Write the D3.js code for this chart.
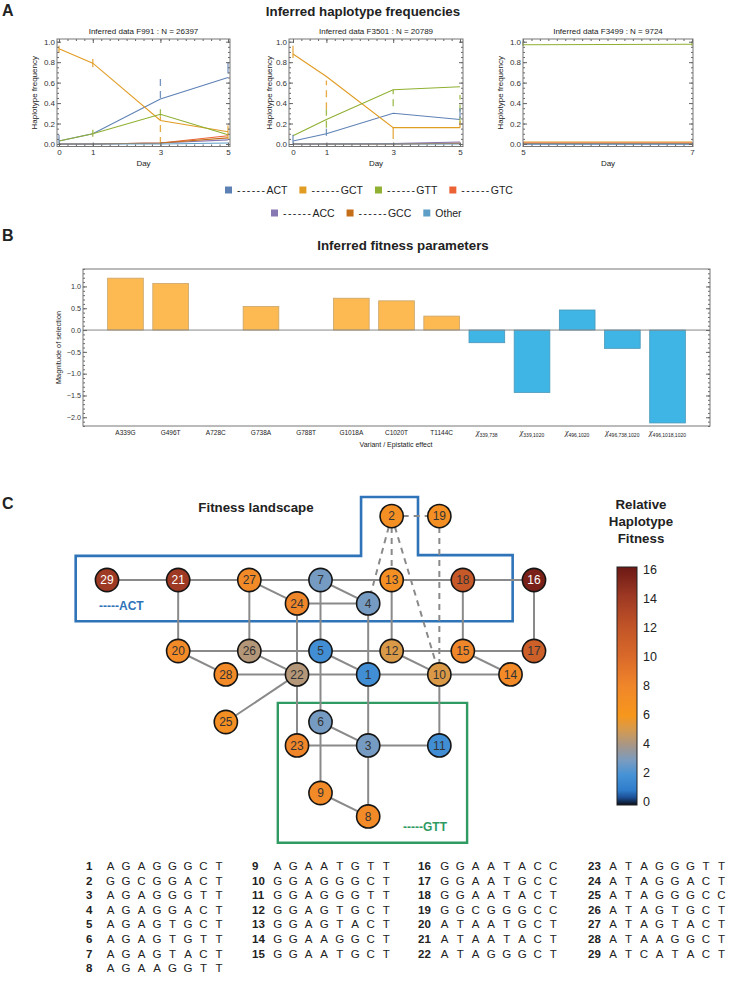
<!DOCTYPE html>
<html>
<head>
<meta charset="utf-8">
<script src="https://cdn.jsdelivr.net/npm/d3@7"></script>
<style>
body { margin: 0; background: #fff; }
svg { font-family: "Liberation Sans", Arial, Helvetica, sans-serif; }
</style>
</head>
<body>
<svg id="fig" width="730" height="990"></svg>
<script>
// ---------- data ----------
const hapNames = ["ACT", "GCT", "GTT", "GTC", "ACC", "GCC", "Other"];
const hapColors = ["#5E81B5", "#E19C24", "#8FB032", "#EB6235", "#8778B3", "#C56E1A", "#5D9EC7"];

// F991, days 0 1 3 5, one row per haplotype
const f991Days = [0, 1, 3, 5];
const f991Freq = [
  [0.03, 0.10, 0.44, 0.65],
  [0.93, 0.79, 0.23, 0.12],
  [0.03, 0.10, 0.29, 0.09],
  [0.00, 0.00, 0.01, 0.08],
  [0.00, 0.00, 0.01, 0.04],
  [0.00, 0.00, 0.01, 0.06],
  [0.00, 0.00, 0.00, 0.01]
];
// [haplotype, day, low, high]
const f991Bars = [
  [0, 0, 0.00, 0.09], [1, 0, 0.89, 0.96], [1, 1, 0.75, 0.83], [2, 1, 0.07, 0.14],
  [0, 3, 0.45, 0.64], [2, 3, 0.27, 0.34], [1, 3, 0.00, 0.27], [0, 5, 0.69, 0.80], [1, 5, 0.05, 0.18]
];

const f3501Days = [0, 1, 3, 5];
const f3501Freq = [
  [0.03, 0.10, 0.30, 0.24],
  [0.88, 0.66, 0.16, 0.16],
  [0.08, 0.24, 0.53, 0.56],
  [0.00, 0.00, 0.00, 0.01],
  [0.00, 0.00, 0.005, 0.02],
  [0.00, 0.00, 0.00, 0.005],
  [0.00, 0.00, 0.00, 0.00]
];
const f3501Bars = [
  [1, 0, 0.84, 0.96], [0, 0, 0.00, 0.09], [1, 1, 0.34, 0.62], [2, 1, 0.16, 0.34], [0, 1, 0.08, 0.15],
  [2, 3, 0.37, 0.53], [1, 3, 0.05, 0.16], [2, 5, 0.20, 0.48], [0, 5, 0.25, 0.35], [1, 5, 0.16, 0.22]
];

const f3499Days = [5, 7];
const f3499Freq = [
  [0.00, 0.00],
  [0.02, 0.02],
  [0.97, 0.975],
  [0.01, 0.01],
  [0.00, 0.00],
  [0.005, 0.005],
  [0.00, 0.00]
];
const f3499Bars = [[2, 5, 0.96, 1.0], [2, 7, 0.96, 1.0]];

// panel B
const variantLabels = ["A339G", "G496T", "A728C", "G738A", "G788T", "G1018A", "C1020T", "T1144C"];
const epistaticSites = ["339,738", "339,1020", "496,1020", "496,738,1020", "496,1018,1020"];
const selectionValues = [1.19, 1.07, 0, 0.54, 0, 0.73, 0.67, 0.32, -0.29, -1.43, 0.46, -0.42, -2.13];

// panel C: node id, lattice column, lattice row, relative fitness
const nodeIds = [1, 2, 3, 4, 5, 6, 7, 8, 9, 10, 11, 12, 13, 14, 15, 16, 17, 18, 19, 20, 21, 22, 23, 24, 25, 26, 27, 28, 29];
const nodeCol = [3.67, 4, 3.67, 3.67, 3, 3, 3, 3.67, 3, 4.67, 4.67, 4, 4, 5.67, 5, 6, 6, 5, 4.67, 1, 1, 2.67, 2.67, 2.67, 1.67, 2, 2, 1.67, 0];
const nodeRow = [1.33, -0.9, 2.33, 0.33, 1, 2, 0, 3.33, 3, 1.33, 2.33, 1, 0, 1.33, 1, 0, 1, 0, -0.9, 1, 0, 1.33, 2.33, 0.33, 2, 1, 0, 1.33, 0];
const nodeFitness = [1.8, 7, 2.9, 2.9, 1.8, 2.9, 2.9, 7.5, 7.5, 5.2, 1.8, 5.2, 7, 7.5, 8, 15.5, 11, 11.5, 7, 7.5, 14, 4.3, 8, 8, 7, 4.3, 7.5, 7.5, 14];
const edges = [
  [29, 21], [21, 27], [27, 7], [7, 13], [13, 18], [18, 16],
  [27, 24], [7, 4], [24, 4],
  [21, 20], [27, 26], [7, 5], [13, 12], [18, 15], [16, 17], [24, 22], [4, 1],
  [20, 26], [26, 5], [5, 12], [12, 15], [15, 17],
  [20, 28], [26, 22], [5, 1], [12, 10], [15, 14],
  [28, 22], [22, 1], [1, 10], [10, 14], [22, 25],
  [5, 6], [22, 23], [1, 3], [10, 11],
  [6, 3], [23, 3], [3, 11], [6, 9], [3, 8], [9, 8]
];
const dashedEdges = [[2, 19], [2, 4], [2, 13], [2, 10], [19, 10]];

const fitnessStops = [0, 0.5, 1, 2, 3, 4, 5, 6, 8, 10, 12, 14, 16];
const fitnessColors = ["#0c0e18", "#1c4f95", "#2f7dcb", "#4592d6", "#7a9cc0", "#a69688", "#d39a52", "#f7971c", "#f0862a", "#d9692a", "#c15427", "#9e3923", "#6c1915"];
const fitnessTicks = [0, 2, 4, 6, 8, 10, 12, 14, 16];

const sequences = ["AGAGGGCT", "GGCGGACT", "AGAGGGTT", "AGAGGACT", "AGAGTGCT", "AGAGTGTT", "AGAGTACT", "AGAAGGTT",
  "AGAATGTT", "GGAGGGCT", "GGAGGGTT", "GGAGTGCT", "GGAGTACT", "GGAAGGCT", "GGAATGCT",
  "GGAATACC", "GGAATGCC", "GGAATACT", "GGCGGGCC", "ATAATGCT", "ATAATACT", "ATAGGGCT",
  "ATAGGGTT", "ATAGGACT", "ATAGGGCC", "ATAGTGCT", "ATAGTACT", "ATAAGGCT", "ATCATACT"];
const seqColumnStarts = [0, 8, 15, 22];

// ---------- drawing ----------
const svg = d3.select("#fig");
const ink = "#222";

function label(x, y, txt, size, weight, anchor) {
  return svg.append("text").attr("x", x).attr("y", y).attr("font-size", size)
    .attr("font-weight", weight || "normal").attr("text-anchor", anchor || "start")
    .attr("fill", ink).text(txt);
}

label(2, 16, "A", 16, "bold");
label(2, 241, "B", 16, "bold");
label(2, 509, "C", 16, "bold");
label(363, 16, "Inferred haplotype frequencies", 13.3, "bold", "middle");

// frame with inward ticks on four sides
function frameAxes(g, x, y, box, xMajor, xMinor, yMajor, yMinor, yFmt) {
  const [l, r, t, b] = box;
  const add = (axis, tx, ty) => {
    const a = g.append("g").attr("transform", `translate(${tx},${ty})`).call(axis);
    a.select(".domain").remove();
    a.selectAll("line").attr("stroke", "#666");
    a.selectAll("text").attr("fill", "#333").attr("font-family", null);
    return a;
  };
  add(d3.axisBottom(x).tickValues(xMinor).tickSize(-2).tickFormat(""), 0, b);
  add(d3.axisTop(x).tickValues(xMinor).tickSize(-2).tickFormat(""), 0, t);
  add(d3.axisLeft(y).tickValues(yMinor).tickSize(-2).tickFormat(""), l, 0);
  add(d3.axisRight(y).tickValues(yMinor).tickSize(-2).tickFormat(""), r, 0);
  if (xMajor) add(d3.axisBottom(x).tickValues(xMajor).tickSize(-4).tickPadding(3).tickFormat(d3.format("d")), 0, b).attr("font-size", 8);
  add(d3.axisTop(x).tickValues(xMajor || []).tickSize(-4).tickFormat(""), 0, t);
  add(d3.axisLeft(y).tickValues(yMajor).tickSize(-4).tickPadding(2).tickFormat(yFmt), l, 0).attr("font-size", yFmt ? 8 : 0);
  add(d3.axisRight(y).tickValues(yMajor).tickSize(-4).tickFormat(""), r, 0);
  g.append("rect").attr("x", l).attr("y", t).attr("width", r - l).attr("height", b - t)
    .attr("fill", "none").attr("stroke", "#777").attr("stroke-width", 1);
}

function freqPlot(title, days, freq, bars, range, frameLR, minorStep, yLabelX) {
  const g = svg.append("g");
  const x = d3.scaleLinear().domain([days[0], days[days.length - 1]]).range(range);
  const y = d3.scaleLinear().domain([0, 1]).range([144, 41.7]);
  const box = [frameLR[0], frameLR[1], 39, 146.5];
  const line = d3.line().x((d, i) => x(days[i])).y(d => y(d));
  freq.forEach((s, k) => {
    g.append("path").attr("d", line(s)).attr("fill", "none")
      .attr("stroke", hapColors[k]).attr("stroke-width", 1.1);
  });
  bars.forEach(b => {
    g.append("line").attr("x1", x(b[1])).attr("x2", x(b[1]))
      .attr("y1", y(b[2])).attr("y2", y(b[3]))
      .attr("stroke", hapColors[b[0]]).attr("stroke-width", 1.3).attr("stroke-opacity", 0.85)
      .attr("stroke-dasharray", b[3] - b[2] > 0.15 ? "7,5" : null);
  });
  const xMinor = d3.range(days[0], days[days.length - 1] + 0.001, minorStep);
  frameAxes(g, x, y, box, days, xMinor, d3.range(0, 1.001, 0.2), d3.range(0, 1.001, 0.05), d3.format(".1f"));
  g.append("text").attr("x", (box[0] + box[1]) / 2).attr("y", 34).attr("text-anchor", "middle")
    .attr("font-size", 8).attr("fill", ink).text(title);
  g.append("text").attr("x", (box[0] + box[1]) / 2).attr("y", 166).attr("text-anchor", "middle")
    .attr("font-size", 8).attr("fill", ink).text("Day");
  g.append("text").attr("transform", `translate(${yLabelX},${(box[2] + box[3]) / 2}) rotate(-90)`)
    .attr("text-anchor", "middle").attr("font-size", 8).attr("fill", ink).text("Haplotype frequency");
}

freqPlot("Inferred data F991 : N = 26397", f991Days, f991Freq, f991Bars, [59, 228], [57, 230], 0.25, 37);
freqPlot("Inferred data F3501 : N = 20789", f3501Days, f3501Freq, f3501Bars, [293, 460], [289, 463], 0.25, 272);
freqPlot("Inferred data F3499 : N = 9724", f3499Days, f3499Freq, f3499Bars, [523, 692], [523, 693], 0.1, 503);

// legend A
const legendRows = [[0, 1, 2, 3], [4, 5, 6]];
const legendStart = [225, 271];
const legendY = [190, 213];
legendRows.forEach((row, r) => {
  let cx = legendStart[r];
  row.forEach(k => {
    svg.append("rect").attr("x", cx).attr("y", legendY[r] - 3.5).attr("width", 7).attr("height", 7)
      .attr("fill", hapColors[k]);
    const t = svg.append("text").attr("x", cx + 12).attr("y", legendY[r] + 4)
      .attr("font-size", 10.5).attr("fill", ink);
    if (hapNames[k] !== "Other") {
      t.append("tspan").attr("letter-spacing", 1.4).text("------");
    }
    t.append("tspan").text(hapNames[k]);
    cx += 12 + t.node().getComputedTextLength() + 12;
  });
});

// ---------- panel B ----------
label(403, 250, "Inferred fitness parameters", 13.3, "bold", "middle");
const categories = variantLabels.concat(epistaticSites.map(s => "χ" + s));
const bx = d3.scaleBand().domain(categories).range([83, 710]).paddingInner(0.21).paddingOuter(0.545);
const by = d3.scaleLinear().domain([-2.2, 1.4]).range([426, 269]);
const gB = svg.append("g");
gB.selectAll("rect.bar").data(selectionValues).enter().append("rect")
  .attr("class", "bar")
  .attr("x", (d, i) => bx(categories[i]))
  .attr("width", bx.bandwidth())
  .attr("y", d => by(Math.max(0, d)))
  .attr("height", d => Math.abs(by(d) - by(0)))
  .attr("fill", (d, i) => i < variantLabels.length ? "#FDBA52" : "#3EB5E5")
  .attr("stroke", (d, i) => i < variantLabels.length ? "#c9a46a" : "#4b97b8")
  .attr("stroke-width", 0.8);
gB.append("line").attr("x1", 83).attr("x2", 710).attr("y1", by(0)).attr("y2", by(0))
  .attr("stroke", "#888").attr("stroke-width", 1);
const topTick = d3.scaleLinear().domain([0, 18]).range([83, 710]);
frameAxes(gB, topTick, by, [83, 710, 269, 426], null, [], d3.range(-2, 1.01, 0.5), d3.range(-2.2, 1.41, 0.1), d3.format(".1f"));
gB.selectAll("g text").attr("font-size", 7.2);
categories.forEach((c, i) => {
  const cx = bx(c) + bx.bandwidth() / 2;
  if (i < variantLabels.length) {
    gB.append("text").attr("x", cx).attr("y", 435).attr("text-anchor", "middle")
      .attr("font-size", 6.5).attr("fill", ink).text(c);
  } else {
    const t = gB.append("text").attr("x", cx).attr("y", 435).attr("text-anchor", "middle")
      .attr("fill", ink);
    t.append("tspan").attr("font-family", "Liberation Serif, Times New Roman, serif")
      .attr("font-style", "italic").attr("font-size", 8).text("χ");
    t.append("tspan").attr("font-size", 5).attr("dy", 1.5).text(epistaticSites[i - variantLabels.length]);
  }
});
gB.append("text").attr("x", 396).attr("y", 447).attr("text-anchor", "middle").attr("font-size", 7)
  .attr("fill", ink).text("Variant / Epistatic effect");
gB.append("text").attr("transform", `translate(61,347.5) rotate(-90)`).attr("text-anchor", "middle")
  .attr("font-size", 7.3).attr("fill", ink).text("Magnitude of selection");

// ---------- panel C ----------
label(256, 512, "Fitness landscape", 13.3, "bold", "middle");
const nx = d3.scaleLinear().domain([0, 6]).range([107, 534]);
const ny = d3.scaleLinear().domain([0, 3]).range([580, 793]);
const fitColor = d3.scaleLinear().domain(fitnessStops).range(fitnessColors).interpolate(d3.interpolateRgb);
const nodeById = {};
nodeIds.forEach((id, i) => { nodeById[id] = { id, x: nx(nodeCol[i]), y: ny(nodeRow[i]), f: nodeFitness[i] }; });

const gC = svg.append("g");
// group boxes (lattice units)
const actBox = [[-0.44, -0.34], [3.57, -0.34], [3.57, -1.17], [4.37, -1.17], [4.37, -0.35], [5.70, -0.35], [5.70, 0.58], [-0.44, 0.58]];
const gttBox = [[2.40, 1.73], [5.06, 1.73], [5.06, 3.70], [2.40, 3.70]];
gC.append("path").attr("d", "M" + actBox.map(p => [nx(p[0]), ny(p[1])].join(",")).join("L") + "Z")
  .attr("fill", "none").attr("stroke", "#2f73b8").attr("stroke-width", 2.6);
gC.append("path").attr("d", "M" + gttBox.map(p => [nx(p[0]), ny(p[1])].join(",")).join("L") + "Z")
  .attr("fill", "none").attr("stroke", "#2f9a62").attr("stroke-width", 2.4);
gC.append("text").attr("x", 99).attr("y", 610).attr("font-size", 12).attr("font-weight", "bold")
  .attr("fill", "#2f73b8").text("-----ACT");
gC.append("text").attr("x", 403).attr("y", 831).attr("font-size", 12).attr("font-weight", "bold")
  .attr("fill", "#2f9a62").text("-----GTT");

gC.selectAll("line.edge").data(edges).enter().append("line").attr("class", "edge")
  .attr("x1", d => nodeById[d[0]].x).attr("y1", d => nodeById[d[0]].y)
  .attr("x2", d => nodeById[d[1]].x).attr("y2", d => nodeById[d[1]].y)
  .attr("stroke", "#8a8a8a").attr("stroke-width", 2);
gC.selectAll("line.dedge").data(dashedEdges).enter().append("line").attr("class", "dedge")
  .attr("x1", d => nodeById[d[0]].x).attr("y1", d => nodeById[d[0]].y)
  .attr("x2", d => nodeById[d[1]].x).attr("y2", d => nodeById[d[1]].y)
  .attr("stroke", "#8a8a8a").attr("stroke-width", 2).attr("stroke-dasharray", "6,5");

const nodes = Object.values(nodeById);
gC.selectAll("circle.node").data(nodes).enter().append("circle").attr("class", "node")
  .attr("cx", d => d.x).attr("cy", d => d.y).attr("r", 11.6)
  .attr("fill", d => fitColor(d.f)).attr("stroke", "#151515").attr("stroke-width", 1.6);
gC.selectAll("text.nlab").data(nodes).enter().append("text").attr("class", "nlab")
  .attr("x", d => d.x).attr("y", d => d.y + 4.2).attr("text-anchor", "middle")
  .attr("font-size", 12).attr("fill", d => d.f > 13 ? "#fff" : "#333").text(d => d.id);

// colour bar
["Relative", "Haplotype", "Fitness"].forEach((w, i) => label(641, 509 + i * 17, w, 13.3, "bold", "middle"));
const cy = d3.scaleLinear().domain([0, 16]).range([801, 569]);
const defs = svg.append("defs");
const grad = defs.append("linearGradient").attr("id", "fitgrad").attr("x1", 0).attr("x2", 0).attr("y1", 1).attr("y2", 0);
fitnessStops.forEach((s, i) => grad.append("stop").attr("offset", s / 16).attr("stop-color", fitnessColors[i]));
svg.append("rect").attr("x", 617).attr("y", 567).attr("width", 20).attr("height", 238)
  .attr("fill", "url(#fitgrad)").attr("stroke", "#222").attr("stroke-width", 1);
fitnessTicks.forEach(t => label(643, cy(t) + 4.5, t, 12.5));

// haplotype list
const seqRowY = d3.scaleLinear().domain([0, 1]).range([870, 884.6]);
const seqColX = [86, 252, 418, 588];
const seqLetterX = [110.5, 277.7, 444.7, 613];
sequences.forEach((s, i) => {
  let c = 3;
  while (i < seqColumnStarts[c]) c--;
  const r = i - seqColumnStarts[c];
  const yy = seqRowY(r);
  label(seqColX[c], yy, i + 1, 11.5, "bold");
  svg.append("text").attr("y", yy).attr("font-size", 11.5).attr("fill", ink).attr("text-anchor", "middle")
    .attr("x", s.split("").map((ch, j) => (seqLetterX[c] + j * 15.5).toFixed(1)).join(" "))
    .text(s);
});
</script>
</body>
</html>
